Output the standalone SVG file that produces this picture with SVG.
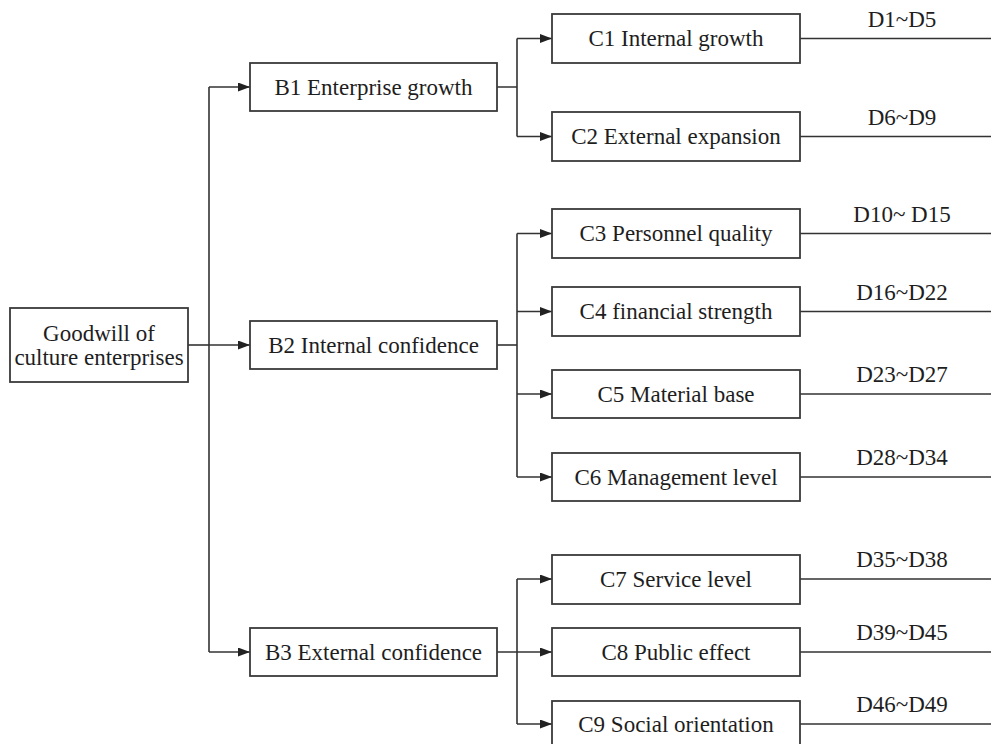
<svg xmlns="http://www.w3.org/2000/svg" width="991" height="744" viewBox="0 0 991 744">
<defs>
<marker id="arr" markerUnits="userSpaceOnUse" markerWidth="12" markerHeight="10" refX="12" refY="4.5" orient="auto">
<path d="M0,0 L12,4.5 L0,9 z" fill="#222"/>
</marker>
<style>
.box{fill:#fff;stroke:#3a3a3a;stroke-width:1.8}
.t{font-family:"Liberation Serif","Times New Roman",serif;font-size:23px;fill:#1e1e1e;text-anchor:middle}
.ln{fill:none;stroke:#333;stroke-width:1.6}
.a{fill:none;stroke:#333;stroke-width:1.6;marker-end:url(#arr)}
</style>
</defs>
<rect width="991" height="744" fill="#fff"/>
<g id="connectors">
<path class="ln" d="M188,345 H209" stroke-width="2.6"/>
<path class="ln" d="M209,87 V652"/>
<path class="a" d="M209,87 H250"/>
<path class="a" d="M209,345 H250"/>
<path class="a" d="M209,652 H250"/>
<path class="ln" d="M497,87 H517 M517,38.5 V136.5"/>
<path class="a" d="M517,38.5 H552"/>
<path class="a" d="M517,136.5 H552"/>
<path class="ln" d="M497,345 H517" stroke-width="2.4"/>
<path class="ln" d="M517,233.5 V477"/>
<path class="a" d="M517,233.5 H552"/>
<path class="a" d="M517,311.5 H552"/>
<path class="a" d="M517,394 H552"/>
<path class="a" d="M517,477 H552"/>
<path class="ln" d="M497,652 H517 M517,579 V724"/>
<path class="a" d="M517,579 H552"/>
<path class="a" d="M517,652 H552"/>
<path class="a" d="M517,724 H552"/>
<path class="ln" d="M800,38.5 H991 M800,136.5 H991 M800,233.5 H991 M800,311.5 H991 M800,394 H991 M800,477 H991 M800,579 H991 M800,652 H991 M800,724 H991"/>
<text class="t" x="902" y="26.5">D1~D5</text>
<text class="t" x="902" y="124.5">D6~D9</text>
<text class="t" x="902" y="221.5">D10~ D15</text>
<text class="t" x="902" y="299.5">D16~D22</text>
<text class="t" x="902" y="382">D23~D27</text>
<text class="t" x="902" y="465">D28~D34</text>
<text class="t" x="902" y="567">D35~D38</text>
<text class="t" x="902" y="640">D39~D45</text>
<text class="t" x="902" y="712">D46~D49</text>
</g>
<g id="A">
<rect class="box" x="10" y="308" width="178" height="74"/>
<text class="t" x="99" y="340.5">Goodwill of</text>
<text class="t" x="99" y="364.5">culture enterprises</text>
</g>
<g id="B1"><rect class="box" x="250" y="63" width="247" height="48"/><text class="t" x="373.5" y="94.5">B1 Enterprise growth</text></g>
<g id="B2"><rect class="box" x="250" y="321" width="247" height="48"/><text class="t" x="373.5" y="352.5">B2 Internal confidence</text></g>
<g id="B3"><rect class="box" x="250" y="628" width="247" height="48"/><text class="t" x="373.5" y="659.5">B3 External confidence</text></g>
<g id="C1"><rect class="box" x="552" y="14" width="248" height="49"/><text class="t" x="676" y="46">C1 Internal growth</text></g>
<g id="C2"><rect class="box" x="552" y="112" width="248" height="49"/><text class="t" x="676" y="144">C2 External expansion</text></g>
<g id="C3"><rect class="box" x="552" y="209" width="248" height="49"/><text class="t" x="676" y="241">C3 Personnel quality</text></g>
<g id="C4"><rect class="box" x="552" y="287" width="248" height="49"/><text class="t" x="676" y="319">C4 financial strength</text></g>
<g id="C5"><rect class="box" x="552" y="370" width="248" height="48"/><text class="t" x="676" y="401.5">C5 Material base</text></g>
<g id="C6"><rect class="box" x="552" y="453" width="248" height="48"/><text class="t" x="676" y="484.5">C6 Management level</text></g>
<g id="C7"><rect class="box" x="552" y="555" width="248" height="49"/><text class="t" x="676" y="586.5">C7 Service level</text></g>
<g id="C8"><rect class="box" x="552" y="628" width="248" height="48"/><text class="t" x="676" y="659.5">C8 Public effect</text></g>
<g id="C9"><rect class="box" x="552" y="701" width="248" height="49"/><text class="t" x="676" y="731.5">C9 Social orientation</text></g>
</svg>
